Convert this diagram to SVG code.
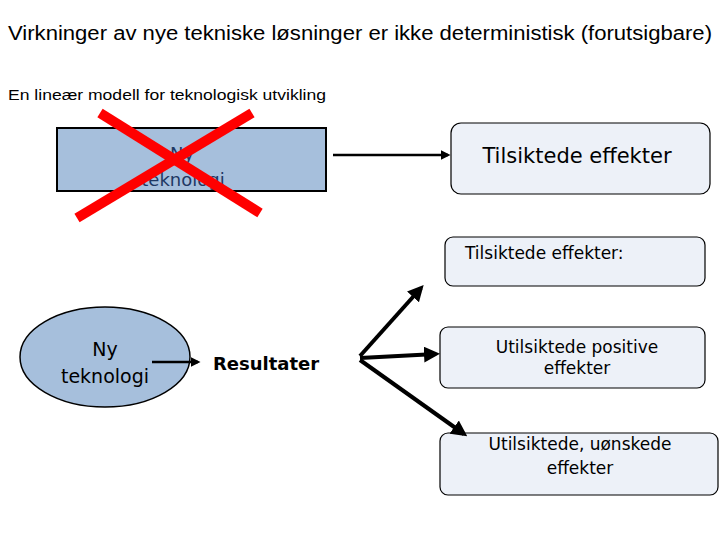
<svg xmlns="http://www.w3.org/2000/svg" width="720" height="540" viewBox="0 0 720 540">
<style>
.t{font-family:"Liberation Sans",Arial,sans-serif;fill:#000}
.c{font-family:"DejaVu Sans","Open Sans",sans-serif;fill:#000}
.eff{fill:#edf1f8;stroke:#000;stroke-width:1.2}
.con{stroke:#000;stroke-width:4;fill:none;marker-end:url(#ah)}
</style>
<defs>
<marker id="ah" markerWidth="4" markerHeight="4" refX="3" refY="2" orient="auto" markerUnits="strokeWidth">
<path d="M0,0 L4,2 L0,4 Z" fill="#000"/>
</marker>
</defs>
<rect width="720" height="540" fill="#fff"/>
<text class="t" x="8" y="40" font-size="20" textLength="704" lengthAdjust="spacingAndGlyphs">Virkninger av nye tekniske løsninger er ikke deterministisk (forutsigbare)</text>
<text class="t" x="8" y="100" font-size="15" textLength="318" lengthAdjust="spacingAndGlyphs">En lineær modell for teknologisk utvikling</text>
<g id="ny-teknologi-linear">
<rect x="57" y="128" width="269" height="63" fill="#a6bfdc" stroke="#000" stroke-width="2"/>
<text class="c" x="182" y="160" font-size="18" text-anchor="middle" style="fill:#1f3864">Ny</text>
<text class="c" x="183" y="186" font-size="18" text-anchor="middle" style="fill:#1f3864">teknologi</text>
<line x1="100" y1="113" x2="260" y2="213" stroke="#f00" stroke-width="10"/>
<line x1="252" y1="113" x2="77" y2="218" stroke="#f00" stroke-width="10"/>
</g>
<g id="tilsiktede-top">
<rect class="eff" x="451" y="123" width="259" height="71" rx="10"/>
<text class="c" x="577" y="163" font-size="21" text-anchor="middle">Tilsiktede effekter</text>
</g>
<g id="tilsiktede">
<rect class="eff" x="445" y="237" width="260" height="49" rx="8"/>
<text class="c" x="465" y="259" font-size="17">Tilsiktede effekter:</text>
</g>
<g id="utilsiktede-positive">
<rect class="eff" x="440" y="327" width="265" height="61" rx="8"/>
<text class="c" x="577" y="353" font-size="17" text-anchor="middle">Utilsiktede positive</text>
<text class="c" x="577" y="374" font-size="17" text-anchor="middle">effekter</text>
</g>
<g id="utilsiktede-uonskede">
<rect class="eff" x="440" y="433" width="278" height="62" rx="8"/>
<text class="c" x="580" y="450" font-size="17" text-anchor="middle">Utilsiktede, uønskede</text>
<text class="c" x="580" y="474" font-size="17" text-anchor="middle">effekter</text>
</g>
<g id="ny-teknologi">
<ellipse cx="105" cy="357" rx="85" ry="50" fill="#a6bfdc" stroke="#000" stroke-width="1.5"/>
<text class="c" x="105" y="356" font-size="19" text-anchor="middle">Ny</text>
<text class="c" x="105" y="383" font-size="19" text-anchor="middle">teknologi</text>
</g>
<g id="resultater">
<text class="c" x="266" y="370" font-size="18" font-weight="bold" text-anchor="middle">Resultater</text>
</g>
<g id="connectors">
<line x1="333" y1="155" x2="448" y2="155" stroke="#000" stroke-width="2.5" marker-end="url(#ah)"/>
<line x1="152" y1="362" x2="198" y2="362" stroke="#000" stroke-width="2.5" marker-end="url(#ah)"/>
<line class="con" x1="360" y1="356" x2="421" y2="288"/>
<line class="con" x1="360" y1="358" x2="436" y2="354"/>
<line class="con" x1="360" y1="360" x2="464" y2="434"/>
</g>
</svg>
